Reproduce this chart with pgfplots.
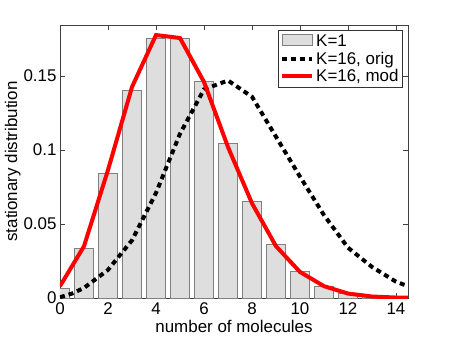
\documentclass[border=0pt]{standalone}
\usepackage{pgfplots}
\pgfplotsset{compat=1.18}
\usepackage{fontspec}
\setmainfont{Liberation Sans}
\definecolor{barfill}{RGB}{222,222,222}
\definecolor{baredge}{RGB}{128,128,128}
\pgfplotsset{
  linelegend/.style={legend image code/.code={\draw[##1] (0cm,0cm) -- (1.05cm,0cm);}},
  barlegend/.style={legend image code/.code={\draw[fill=barfill, draw=baredge, line width=0.7pt] (0cm,-0.14cm) rectangle (1.05cm,0.25cm);}},
}
\begin{document}
\begin{tikzpicture}
\begin{axis}[
  at={(0,0)}, anchor=south west,
  scale only axis, width=348bp, height=273bp,
  xmin=0, xmax=14.5, ymin=0, ymax=0.1845,
  xtick={0,2,4,6,8,10,12,14},
  ytick={0,0.05,0.1,0.15},
  yticklabels={0,0.05,0.1,0.15},
  xticklabels={0,2,4,6,8,10,12,14},
  tick align=inside, major tick length=5bp,
  tick style={color=black!75, line width=0.6pt},
  axis line style={color=black!75, line width=0.7pt},
  ticklabel style={font=\fontsize{17}{19}\selectfont},
  xticklabel style={yshift=-1bp},
  label style={font=\fontsize{17}{19}\selectfont},
  xlabel={number of molecules}, ylabel={stationary distribution},
  xlabel style={yshift=1bp},
  ylabel style={yshift=-4bp},
  legend style={at={(0.985,0.98)}, anchor=north east, draw=black!80, font=\fontsize{17}{19}\selectfont, inner xsep=2pt, inner ysep=2pt, row sep=0pt, cells={anchor=west}},
  linelegend,
  legend cell align=left,
  clip=true,
]
\addplot[ybar, bar width=0.8, fill=barfill, draw=baredge, line width=0.7pt, barlegend] coordinates {
(0,0.0067) (1,0.0337) (2,0.0842) (3,0.1404) (4,0.1755) (5,0.1755) (6,0.1462) (7,0.1044) (8,0.0653) (9,0.0363) (10,0.0181) (11,0.0082) (12,0.0034) (13,0.0013) (14,0.0005)};
\addlegendentry{K=1}
\addplot[black, line width=4bp, dash pattern=on 5bp off 4bp] coordinates {
(0,0.0005) (0.5,0.003) (1,0.0068) (2,0.019) (3,0.039) (4,0.071) (5,0.111) (6,0.141) (7,0.147) (8,0.136) (9,0.109) (10,0.082) (11,0.056) (12,0.034) (13,0.021) (14,0.011) (14.5,0.008)};
\addlegendentry{K=16, orig}
\addplot[red, line width=4bp] coordinates {
(0,0.008) (1,0.035) (2,0.0865) (3,0.1426) (4,0.1777) (5,0.1757) (6,0.146) (7,0.102) (8,0.064) (9,0.035) (10,0.0176) (11,0.008) (12,0.003) (13,0.001) (14,0.0003) (14.5,0.0002)};
\addlegendentry{K=16, mod}
\end{axis}
\path[use as bounding box] (-60bp,-41bp) rectangle (391bp,298bp);
\end{tikzpicture}
\end{document}
